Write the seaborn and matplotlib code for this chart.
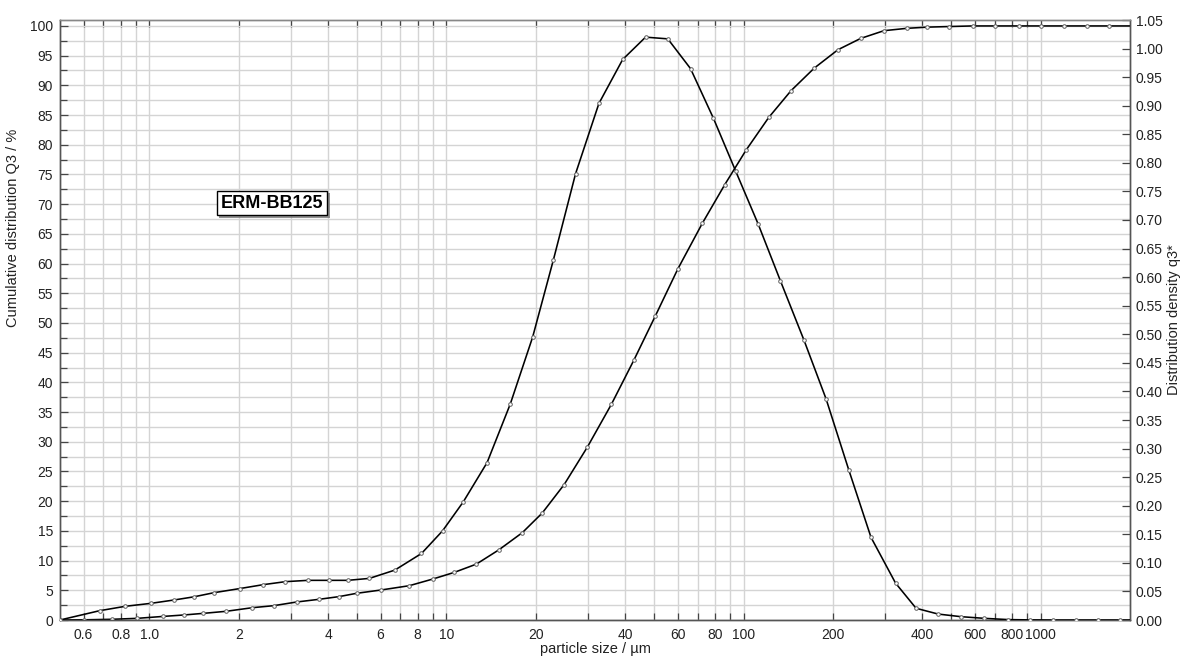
import numpy as np
import pandas as pd
import matplotlib
matplotlib.use("Agg")
import matplotlib.pyplot as plt
import matplotlib.ticker as mticker
import matplotlib.patheffects as pe
import seaborn as sns

# ---------------- data ----------------
size_cum = [0.5, 0.6, 0.75, 0.91, 1.11, 1.31, 1.52, 1.81, 2.22, 2.62, 3.13, 3.72, 4.34, 4.98,
            6.02, 7.49, 9.0, 10.6, 12.6, 15.0, 18.0, 21.0, 24.9, 29.8, 35.9, 42.8, 50.5, 60.1,
            72.7, 86.5, 102, 121.6, 144.5, 173, 208, 248, 297, 355, 416, 493, 590, 703, 843,
            1000, 1197, 1432, 1706, 2000]
Q3 = [0, 0.03, 0.12, 0.28, 0.6, 0.85, 1.12, 1.46, 2.07, 2.41, 3.03, 3.48, 3.93, 4.49,
      5.05, 5.77, 6.9, 8.0, 9.4, 11.8, 14.7, 18.0, 22.8, 29.1, 36.3, 43.8, 51.2, 59.1,
      66.8, 73.3, 79.1, 84.6, 89.1, 92.9, 96.0, 97.9, 99.2, 99.6, 99.8, 99.9, 100, 100, 100,
      100, 100, 100, 100, 100]

size_den = [0.5, 0.68, 0.83, 1.01, 1.21, 1.41, 1.65, 2.02, 2.42, 2.87, 3.42, 4.01, 4.65, 5.50,
            6.70, 8.24, 9.7, 11.4, 13.7, 16.4, 19.5, 22.9, 27.2, 32.6, 39.2, 46.8, 55.6, 66.3,
            79.2, 94.2, 112, 133, 159.7, 189.6, 226, 268.7, 325, 381, 452, 540, 647, 779, 919,
            1097, 1312, 1560, 1856, 2000]
q3 = [0, 0.0163, 0.024, 0.0291, 0.035, 0.0405, 0.0478, 0.0551, 0.0619, 0.0671, 0.0694, 0.0694,
      0.0694, 0.0728, 0.0873, 0.1164, 0.156, 0.207, 0.2755, 0.378, 0.495, 0.630, 0.781, 0.904,
      0.981, 1.020, 1.017, 0.965, 0.878, 0.785, 0.693, 0.594, 0.490, 0.387, 0.263, 0.1445,
      0.0645, 0.0205, 0.0104, 0.0058, 0.0029, 0.0007, 0.0002, 0, 0, 0, 0, 0]

x_tick_vals = [0.6, 0.8, 1.0, 2, 4, 6, 8, 10, 20, 40, 60, 80, 100, 200, 400, 600, 800, 1000]
x_tick_labels = ["0.6", "0.8", "1.0", "2", "4", "6", "8", "10", "20", "40", "60", "80",
                 "100", "200", "400", "600", "800", "1000"]
left_ticks = list(range(0, 101, 5))
right_ticks = [round(0.05 * i, 2) for i in range(22)]

sample_label = "ERM-BB125"

# ---------------- styling ----------------
sns.set_theme(style="white")
plt.rcParams["font.family"] = ["Liberation Sans", "DejaVu Sans"]

fig = plt.figure(figsize=(11.85, 6.57), dpi=100)
ax = fig.add_axes([60 / 1185, 1 - 620 / 657, 1070 / 1185, 600 / 657])
ax2 = ax.twinx()

df_cum = pd.DataFrame({"size": size_cum, "Q3": Q3})
df_den = pd.DataFrame({"size": size_den, "q3": q3})

line_kw = dict(color="black", linewidth=1.15, marker="o", markersize=2.6,
               markerfacecolor="white", markeredgecolor="#606060", markeredgewidth=0.7,
               markevery=slice(0, -1), sort=False, legend=False)
sns.lineplot(data=df_cum, x="size", y="Q3", ax=ax, zorder=3, **line_kw)
sns.lineplot(data=df_den, x="size", y="q3", ax=ax2, zorder=3, **line_kw)

ax.set_xscale("log")
ax.set_xlim(0.5, 2000)
ax.set_ylim(0, 101)
ax2.set_ylim(0, 1.05)

# x grid / ticks: all log sub-decade positions
grid_pos = []
for dec in [0.1, 1, 10, 100, 1000]:
    for m in range(1, 10):
        v = round(m * dec, 6)
        if 0.5 < v < 2000:
            grid_pos.append(v)
ax.xaxis.set_major_locator(mticker.FixedLocator(x_tick_vals))
ax.xaxis.set_major_formatter(mticker.FixedFormatter(x_tick_labels))
ax.xaxis.set_minor_locator(mticker.FixedLocator([g for g in grid_pos if g not in x_tick_vals]))
ax.xaxis.set_minor_formatter(mticker.NullFormatter())

ax.yaxis.set_major_locator(mticker.FixedLocator(left_ticks))
ax.yaxis.set_minor_locator(mticker.FixedLocator([t + 2.5 for t in left_ticks[:-1]]))
ax2.yaxis.set_major_locator(mticker.FixedLocator(right_ticks))
ax2.yaxis.set_major_formatter(mticker.FormatStrFormatter("%.2f"))

ax.grid(True, which="both", axis="both", color="#d4d4d4", linewidth=1.0)
ax.set_axisbelow(True)
ax2.grid(False)

ax.tick_params(axis="x", which="both", direction="in", top=True, bottom=True,
               length=5, width=0.9, color="#444444", labelsize=10, pad=6, labelcolor="#222222")
ax.tick_params(axis="y", which="major", direction="in", left=True, length=6, width=0.9,
               color="#444444", labelsize=10, pad=5, labelcolor="#222222")
ax.tick_params(axis="y", which="minor", direction="in", left=True, length=5, width=0.9,
               color="#444444")
ax2.tick_params(axis="y", which="major", direction="in", right=True, length=6, width=0.9,
                color="#444444", labelsize=10, pad=4, labelcolor="#222222")

for a in (ax, ax2):
    for s in a.spines.values():
        s.set_color("#555555")
        s.set_linewidth(1.0)
    a.spines["top"].set_color("#888888")

ax.set_xlabel("particle size / µm", fontsize=10.5, labelpad=0, color="#222222")
ax.set_ylabel("Cumulative distribution Q3 / %", fontsize=10.5, color="#222222")
ax.yaxis.set_label_coords(-0.037, 0.653)
ax2.set_ylabel("Distribution density q3*", fontsize=10.5, labelpad=3, color="#222222")

t = ax.text(0.198, 0.695, sample_label, transform=ax.transAxes, ha="center", va="center",
            fontsize=13, fontweight="bold", color="black", zorder=5,
            bbox=dict(boxstyle="square,pad=0.22", facecolor="white", edgecolor="black",
                      linewidth=1.0))
t.get_bbox_patch().set_path_effects([
    pe.SimplePatchShadow(offset=(2, -2), shadow_rgbFace="#777777", alpha=0.8),
    pe.Normal()])

fig.savefig("out.png", dpi=100)
